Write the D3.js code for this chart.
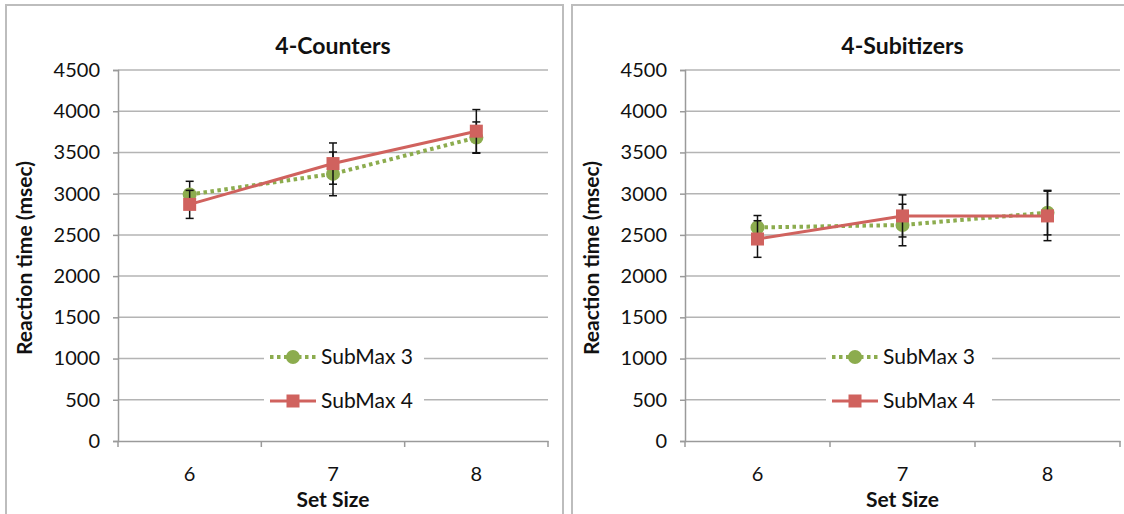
<!DOCTYPE html>
<html><head><meta charset="utf-8">
<script src="https://cdn.jsdelivr.net/npm/d3@7"></script>
<style>
html,body{margin:0;padding:0;background:#fff;}
svg{display:block;font-family:"Lato","Open Sans",sans-serif;}
</style></head>
<body>
<svg id="chart" width="1124" height="514"></svg>
<script>
// ---- data ----
const setSizes = ["6", "7", "8"];
const yTicks = [0, 500, 1000, 1500, 2000, 2500, 3000, 3500, 4000, 4500];
const seriesNames = ["SubMax 3", "SubMax 4"];
const panelTitles = ["4-Counters", "4-Subitizers"];

const countersSub3 = [2990, 3240, 3680];
const countersSub3Err = [160, 265, 190];
const countersSub4 = [2870, 3365, 3758];
const countersSub4Err = [170, 250, 262];

const subitizersSub3 = [2590, 2620, 2770];
const subitizersSub3Err = [145, 252, 270];
const subitizersSub4 = [2450, 2730, 2730];
const subitizersSub4Err = [222, 255, 300];

const green = "#8cac4e", red = "#d0625e";
const svg = d3.select("#chart");

function panel(cfg) {
  const g = svg.append("g");
  g.append("rect").attr("x", cfg.bx).attr("y", cfg.by).attr("width", cfg.bw).attr("height", cfg.bh)
    .attr("fill", "#fff").attr("stroke", "#bdbdbd").attr("stroke-width", 2);

  const x = d3.scaleBand().domain(setSizes).range([cfg.x0, cfg.x1]);
  const y = d3.scaleLinear().domain([0, 4500]).range([441, 70]);

  g.append("g").selectAll("line").data(yTicks.filter(d => d > 0)).join("line")
    .attr("x1", cfg.x0).attr("x2", cfg.x1).attr("y1", d => y(d)).attr("y2", d => y(d))
    .attr("stroke", "#b4b4b4").attr("stroke-width", 1.5);

  const ya = g.append("g").attr("transform", `translate(${cfg.x0},0)`)
    .call(d3.axisLeft(y).tickValues(yTicks).tickSize(5).tickPadding(13).tickFormat(d3.format("d")));
  ya.select(".domain").attr("stroke", "#9a9a9a").attr("stroke-width", 1.5);
  ya.selectAll(".tick line").attr("stroke", "#9a9a9a").attr("stroke-width", 1.5);
  ya.selectAll("text").attr("font-size", 20).attr("fill", "#111").attr("font-family", "Lato");

  const xa = g.append("g").attr("transform", "translate(0,441)")
    .call(d3.axisBottom(x).tickSize(0).tickPadding(26));
  xa.select(".domain").attr("stroke", "#9a9a9a").attr("stroke-width", 1.5);
  xa.selectAll("text").attr("font-size", 20).attr("fill", "#111").attr("font-family", "Lato");
  const bounds = [cfg.x0].concat(setSizes.map(s => x(s) + x.bandwidth()));
  g.append("g").selectAll("line").data(bounds).join("line")
    .attr("x1", d => d).attr("x2", d => d).attr("y1", 441).attr("y2", 447)
    .attr("stroke", "#9a9a9a").attr("stroke-width", 1.5);

  g.append("text").attr("x", (cfg.x0 + cfg.x1) / 2).attr("y", 54).attr("text-anchor", "middle")
    .attr("font-size", 23).attr("font-weight", "bold").attr("fill", "#111").text(cfg.title);
  g.append("text").attr("transform", `translate(${cfg.yl},${258}) rotate(-90)`).attr("text-anchor", "middle")
    .attr("font-size", 21).attr("font-weight", "bold").attr("fill", "#111").text("Reaction time (msec)");
  g.append("text").attr("x", (cfg.x0 + cfg.x1) / 2).attr("y", 507).attr("text-anchor", "middle")
    .attr("font-size", 21).attr("font-weight", "bold").attr("fill", "#111").text("Set Size");

  const cx = d => x(d) + x.bandwidth() / 2;
  const line = d3.line().x(d => cx(d.k)).y(d => y(d.v));

  function series(vals, errs, color, kind) {
    const pts = setSizes.map((k, i) => ({k, v: vals[i], e: errs[i]}));
    const p = g.append("path").datum(pts).attr("d", line).attr("fill", "none").attr("stroke", color);
    if (kind === "circle") p.attr("stroke-width", 4).attr("stroke-dasharray", "3.5,3.5");
    else p.attr("stroke-width", 3);
    const eb = g.append("g").selectAll("g").data(pts).join("g");
    eb.append("line").attr("x1", d => cx(d.k)).attr("x2", d => cx(d.k))
      .attr("y1", d => y(d.v + d.e)).attr("y2", d => y(d.v - d.e)).attr("stroke", "#111").attr("stroke-width", 1.5);
    [1, -1].forEach(s => eb.append("line").attr("x1", d => cx(d.k) - 4).attr("x2", d => cx(d.k) + 4)
      .attr("y1", d => y(d.v + s * d.e)).attr("y2", d => y(d.v + s * d.e)).attr("stroke", "#111").attr("stroke-width", 1.5));
    if (kind === "circle") {
      g.append("g").selectAll("circle").data(pts).join("circle")
        .attr("cx", d => cx(d.k)).attr("cy", d => y(d.v)).attr("r", 7).attr("fill", color);
    } else {
      g.append("g").selectAll("rect").data(pts).join("rect")
        .attr("x", d => cx(d.k) - 6.5).attr("y", d => y(d.v) - 6.5).attr("width", 13).attr("height", 13).attr("fill", color);
    }
  }
  series(cfg.s3, cfg.e3, green, "circle");
  series(cfg.s4, cfg.e4, red, "square");

  const lg = g.append("g").attr("transform", `translate(${cfg.lx},0)`);
  lg.append("rect").attr("x", 0).attr("y", 340).attr("width", cfg.lw).attr("height", 78).attr("fill", "#fff");
  [[357, green, "circle", seriesNames[0]], [401, red, "square", seriesNames[1]]].forEach(([ly, c, kind, name]) => {
    const l = lg.append("line").attr("x1", 6).attr("x2", 52).attr("y1", ly).attr("y2", ly).attr("stroke", c);
    if (kind === "circle") {
      l.attr("stroke-width", 4).attr("stroke-dasharray", "3.5,3.5");
      lg.append("circle").attr("cx", 29).attr("cy", ly).attr("r", 7).attr("fill", c);
    } else {
      l.attr("stroke-width", 3);
      lg.append("rect").attr("x", 22.5).attr("y", ly - 6.5).attr("width", 13).attr("height", 13).attr("fill", c);
    }
    lg.append("text").attr("x", 57).attr("y", ly + 7).attr("font-size", 21).attr("fill", "#111").text(name);
  });
}

panel({bx: 6, by: 5, bw: 557, bh: 515, x0: 118, x1: 548, yl: 32, title: panelTitles[0], lx: 264, lw: 160,
  s3: countersSub3, e3: countersSub3Err, s4: countersSub4, e4: countersSub4Err});
panel({bx: 572, by: 5, bw: 560, bh: 515, x0: 685, x1: 1120, yl: 599, title: panelTitles[1], lx: 826, lw: 166,
  s3: subitizersSub3, e3: subitizersSub3Err, s4: subitizersSub4, e4: subitizersSub4Err});
</script>
</body></html>
